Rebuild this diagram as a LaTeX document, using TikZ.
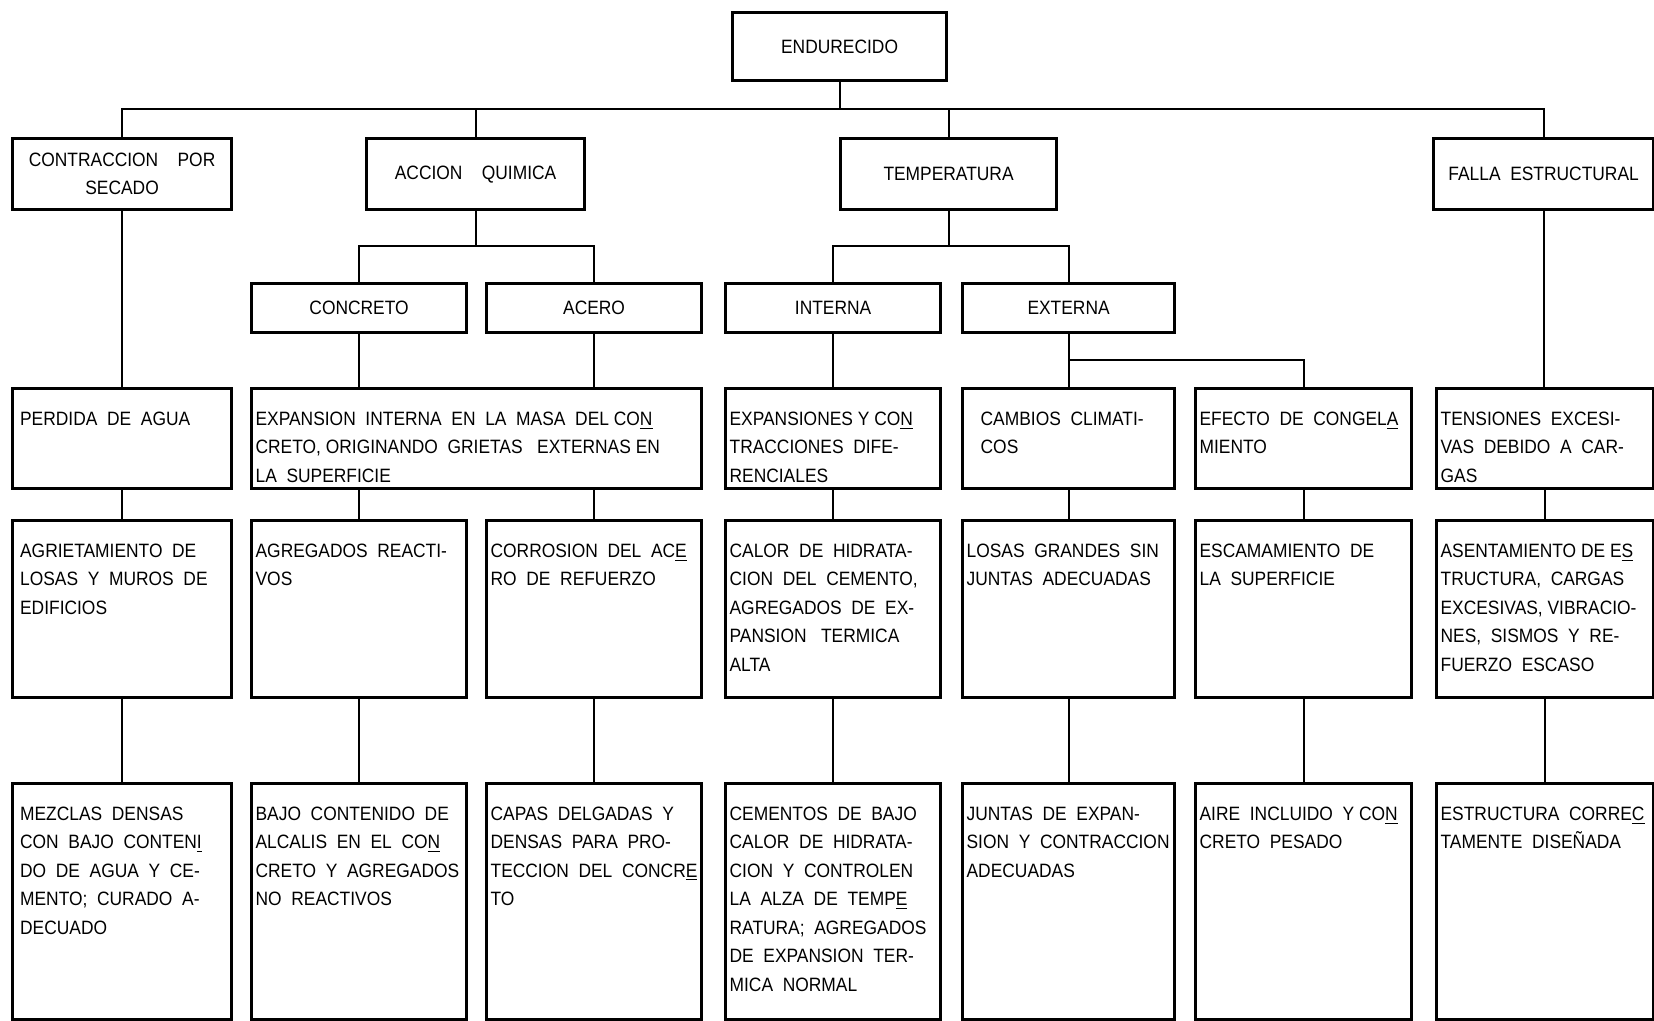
\documentclass[tikz,border=0pt]{standalone}
\usepackage{fontspec}
\setmainfont{Liberation Sans}[FakeStretch=0.9]
\usetikzlibrary{positioning}

\begin{document}
\begin{tikzpicture}[x=0.02cm,y=-0.02cm,
    every node/.style={font=\fontsize{11}{16.2}\selectfont},
    cell/.style 2 args={draw,line width=1.8pt,anchor=north west,inner sep=0pt,align=center,
      minimum width=#1*0.02cm,minimum height=#2*0.02cm},
    txt/.style={anchor=north west,inner sep=0pt,align=left},
    link/.style={line width=1.2pt}]
  \useasboundingbox (0,0) rectangle (1654,1021);
  % Top
  \node[cell={214}{68}] (endu) at (731,11) {ENDURECIDO};
  % First level
  \node[cell={219}{71}] (contr) at (11,137) {CONTRACCION\quad POR\\SECADO};
  \node[cell={218}{71}] (accion) at (365,137) {ACCION\quad QUIMICA};
  \node[cell={216}{71}] (temp) at (839,137) {TEMPERATURA};
  \node[cell={220}{71}] (falla) at (1432,137) {FALLA\ \ ESTRUCTURAL};
  \coordinate (busA) at (0,109);
  \draw[link] (endu.south) -- (endu.south |- busA);
  \draw[link] (contr.north) |- (busA -| falla.north) -- (falla.north);
  \draw[link] (accion.north) -- (accion.north |- busA);
  \draw[link] (temp.north) -- (temp.north |- busA);
  % Second level
  \node[cell={215}{49}] (concreto) at (250,282) {CONCRETO};
  \node[cell={215}{49}] (acero) at (485,282) {ACERO};
  \node[cell={215}{49}] (interna) at (724,282) {INTERNA};
  \node[cell={212}{49}] (externa) at (961,282) {EXTERNA};
  \coordinate (busB) at (0,246);
  \coordinate (busC) at (0,360);
  \draw[link] (accion.south) -- (accion.south |- busB);
  \draw[link] (concreto.north) |- (busB -| acero.north) -- (acero.north);
  \draw[link] (temp.south) -- (temp.south |- busB);
  \draw[link] (interna.north) |- (busB -| externa.north) -- (externa.north);
  % Causes
  \node[cell={219}{100}] (perdida) at (11,387) {};
  \node[cell={450}{100}] (expint) at (250,387) {};
  \node[cell={215}{100}] (expdif) at (724,387) {};
  \node[cell={212}{100}] (cambios) at (961,387) {};
  \node[cell={216}{100}] (efecto) at (1194,387) {};
  \node[cell={217}{100}] (tension) at (1435,387) {};
  \node[txt] (perdida-t) at ([xshift=5pt,yshift=-14pt]perdida.north west) {PERDIDA\ \ DE\ \ AGUA};
  \node[txt] (expint-t) at ([xshift=3pt,yshift=-14pt]expint.north west) {EXPANSION\ \ INTERNA\ \ EN\ \ LA\ \ MASA\ \ DEL CO\underline{N}\\CRETO, ORIGINANDO\ \ GRIETAS\ \ \ EXTERNAS EN\\LA\ \ SUPERFICIE};
  \node[txt] (expdif-t) at ([xshift=3pt,yshift=-14pt]expdif.north west) {EXPANSIONES Y CO\underline{N}\\TRACCIONES\ \ DIFE-\\RENCIALES};
  \node[txt] (cambios-t) at ([xshift=11pt,yshift=-14pt]cambios.north west) {CAMBIOS\ \ CLIMATI-\\COS};
  \node[txt] (efecto-t) at ([xshift=3pt,yshift=-14pt]efecto.north west) {EFECTO\ \ DE\ \ CONGEL\underline{A}\\MIENTO};
  \node[txt] (tension-t) at ([xshift=3pt,yshift=-14pt]tension.north west) {TENSIONES\ \ EXCESI-\\VAS\ \ DEBIDO\ \ A\ \ CAR-\\GAS};
  \draw[link] (externa.south) -- (externa.south |- busC);
  \draw[link] (cambios.north) |- (busC -| efecto.north) -- (efecto.north);
  \draw[link] (contr.south) -- (perdida.north);
  \draw[link] (concreto.south) -- (concreto.south |- expint.north);
  \draw[link] (acero.south) -- (acero.south |- expint.north);
  \draw[link] (interna.south) -- (expdif.north);
  \draw[link] (falla.south) -- (falla.south |- tension.north);
  % Effects
  \node[cell={219}{177}] (agriet) at (11,519) {};
  \node[cell={215}{177}] (agreg) at (250,519) {};
  \node[cell={215}{177}] (corros) at (485,519) {};
  \node[cell={215}{177}] (calor) at (724,519) {};
  \node[cell={212}{177}] (losas) at (961,519) {};
  \node[cell={216}{177}] (escam) at (1194,519) {};
  \node[cell={217}{177}] (asent) at (1435,519) {};
  \node[txt] (agriet-t) at ([xshift=5pt,yshift=-14pt]agriet.north west) {AGRIETAMIENTO\ \ DE\\LOSAS\ \ Y\ \ MUROS\ \ DE\\EDIFICIOS};
  \node[txt] (agreg-t) at ([xshift=3pt,yshift=-14pt]agreg.north west) {AGREGADOS\ \ REACTI-\\VOS};
  \node[txt] (corros-t) at ([xshift=3pt,yshift=-14pt]corros.north west) {CORROSION\ \ DEL\ \ AC\underline{E}\\RO\ \ DE\ \ REFUERZO};
  \node[txt] (calor-t) at ([xshift=3pt,yshift=-14pt]calor.north west) {CALOR\ \ DE\ \ HIDRATA-\\CION\ \ DEL\ \ CEMENTO,\\AGREGADOS\ \ DE\ \ EX-\\PANSION\ \ \ TERMICA\\ALTA};
  \node[txt] (losas-t) at ([xshift=3pt,yshift=-14pt]losas.north west) {LOSAS\ \ GRANDES\ \ SIN\\JUNTAS\ \ ADECUADAS};
  \node[txt] (escam-t) at ([xshift=3pt,yshift=-14pt]escam.north west) {ESCAMAMIENTO\ \ DE\\LA\ \ SUPERFICIE};
  \node[txt] (asent-t) at ([xshift=3pt,yshift=-14pt]asent.north west) {ASENTAMIENTO DE E\underline{S}\\TRUCTURA,\ \ CARGAS\\EXCESIVAS, VIBRACIO-\\NES,\ \ SISMOS\ \ Y\ \ RE-\\FUERZO\ \ ESCASO};
  \draw[link] (perdida.south) -- (agriet.north);
  \draw[link] (expint.south -| agreg.north) -- (agreg.north);
  \draw[link] (expint.south -| corros.north) -- (corros.north);
  \draw[link] (expdif.south) -- (calor.north);
  \draw[link] (cambios.south) -- (losas.north);
  \draw[link] (efecto.south) -- (escam.north);
  \draw[link] (tension.south) -- (asent.north);
  % Remedies
  \node[cell={219}{236}] (mezclas) at (11,782) {};
  \node[cell={215}{236}] (bajo) at (250,782) {};
  \node[cell={215}{236}] (capas) at (485,782) {};
  \node[cell={215}{236}] (cementos) at (724,782) {};
  \node[cell={212}{236}] (juntas) at (961,782) {};
  \node[cell={216}{236}] (aire) at (1194,782) {};
  \node[cell={217}{236}] (estruct) at (1435,782) {};
  \node[txt] (mezclas-t) at ([xshift=5pt,yshift=-14pt]mezclas.north west) {MEZCLAS\ \ DENSAS\\CON\ \ BAJO\ \ CONTEN\underline{I}\\DO\ \ DE\ \ AGUA\ \ Y\ \ CE-\\MENTO;\ \ CURADO\ \ A-\\DECUADO};
  \node[txt] (bajo-t) at ([xshift=3pt,yshift=-14pt]bajo.north west) {BAJO\ \ CONTENIDO\ \ DE\\ALCALIS\ \ EN\ \ EL\ \ CO\underline{N}\\CRETO\ \ Y\ \ AGREGADOS\\NO\ \ REACTIVOS};
  \node[txt] (capas-t) at ([xshift=3pt,yshift=-14pt]capas.north west) {CAPAS\ \ DELGADAS\ \ Y\\DENSAS\ \ PARA\ \ PRO-\\TECCION\ \ DEL\ \ CONCR\underline{E}\\TO};
  \node[txt] (cementos-t) at ([xshift=3pt,yshift=-14pt]cementos.north west) {CEMENTOS\ \ DE\ \ BAJO\\CALOR\ \ DE\ \ HIDRATA-\\CION\ \ Y\ \ CONTROLEN\\LA\ \ ALZA\ \ DE\ \ TEMP\underline{E}\\RATURA;\ \ AGREGADOS\\DE\ \ EXPANSION\ \ TER-\\MICA\ \ NORMAL};
  \node[txt] (juntas-t) at ([xshift=3pt,yshift=-14pt]juntas.north west) {JUNTAS\ \ DE\ \ EXPAN-\\SION\ \ Y\ \ CONTRACCION\\ADECUADAS};
  \node[txt] (aire-t) at ([xshift=3pt,yshift=-14pt]aire.north west) {AIRE\ \ INCLUIDO\ \ Y\ CO\underline{N}\\CRETO\ \ PESADO};
  \node[txt] (estruct-t) at ([xshift=3pt,yshift=-14pt]estruct.north west) {ESTRUCTURA\ \ CORRE\underline{C}\\TAMENTE\ \ DISEÑADA};
  \draw[link] (agriet.south) -- (mezclas.north);
  \draw[link] (agreg.south) -- (bajo.north);
  \draw[link] (corros.south) -- (capas.north);
  \draw[link] (calor.south) -- (cementos.north);
  \draw[link] (losas.south) -- (juntas.north);
  \draw[link] (escam.south) -- (aire.north);
  \draw[link] (asent.south) -- (estruct.north);
\end{tikzpicture}
\end{document}
